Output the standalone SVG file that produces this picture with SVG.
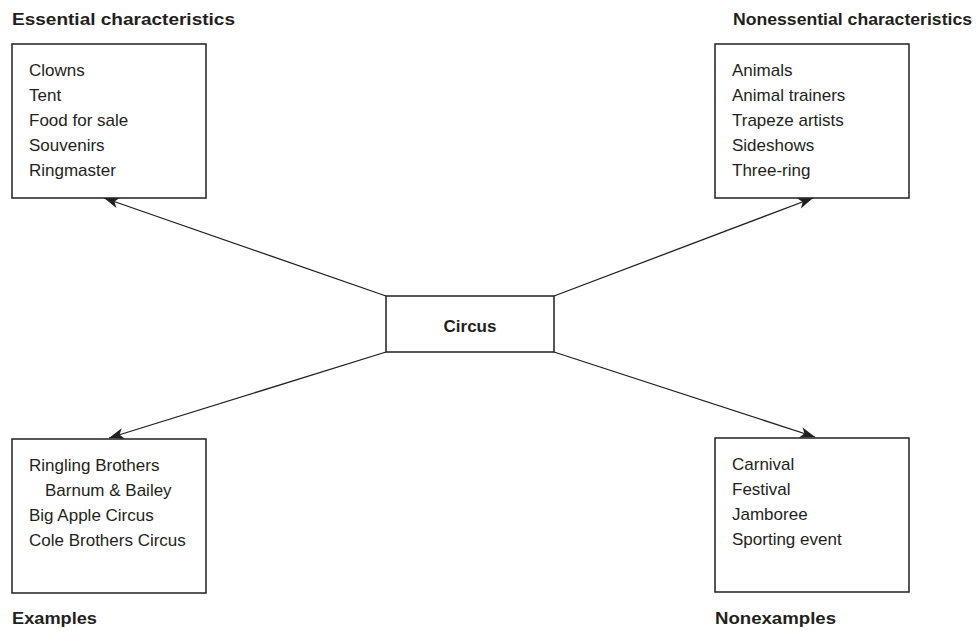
<svg xmlns="http://www.w3.org/2000/svg" width="976" height="631" viewBox="0 0 976 631">
<style>
.box{fill:#fff;stroke:#231f20;stroke-width:1.5}
.t{font-family:"Liberation Sans",Arial,sans-serif;font-size:17px;fill:#231f20}
.h{font-family:"Liberation Sans",Arial,sans-serif;font-size:17px;font-weight:bold;fill:#231f20}
.c{stroke:#231f20;stroke-width:1.3;fill:none}
</style>
<defs>
<marker id="ah" viewBox="-16 -6 17 12" refX="0" refY="0" markerWidth="17" markerHeight="12" markerUnits="userSpaceOnUse" orient="auto">
<path d="M0,0 L-15,-5.5 L-11,0 L-15,5.5 Z" fill="#231f20"/>
</marker>
</defs>
<rect width="976" height="631" fill="#fff"/>
<g id="connectors">
<line class="c" x1="386" y1="296" x2="104" y2="198" marker-end="url(#ah)"/>
<line class="c" x1="554" y1="296" x2="813" y2="198" marker-end="url(#ah)"/>
<line class="c" x1="386" y1="352" x2="109" y2="438" marker-end="url(#ah)"/>
<line class="c" x1="554" y1="352" x2="815" y2="437" marker-end="url(#ah)"/>
</g>
<g id="essential">
<text class="h" x="12" y="25" textLength="223" lengthAdjust="spacingAndGlyphs">Essential characteristics</text>
<rect class="box" x="12" y="44" width="194" height="154"/>
<text class="t" x="29" y="76">Clowns</text>
<text class="t" x="29" y="101">Tent</text>
<text class="t" x="29" y="126">Food for sale</text>
<text class="t" x="29" y="151">Souvenirs</text>
<text class="t" x="29" y="176">Ringmaster</text>
</g>
<g id="nonessential">
<text class="h" x="733" y="25" textLength="239" lengthAdjust="spacingAndGlyphs">Nonessential characteristics</text>
<rect class="box" x="715" y="44" width="194" height="154"/>
<text class="t" x="732" y="76">Animals</text>
<text class="t" x="732" y="101">Animal trainers</text>
<text class="t" x="732" y="126">Trapeze artists</text>
<text class="t" x="732" y="151">Sideshows</text>
<text class="t" x="732" y="176">Three-ring</text>
</g>
<g id="circus">
<rect class="box" x="386" y="296" width="168" height="56"/>
<text class="h" x="470" y="332" text-anchor="middle">Circus</text>
</g>
<g id="examples">
<rect class="box" x="12" y="439" width="194" height="154"/>
<text class="t" x="29" y="471">Ringling Brothers</text>
<text class="t" x="45" y="496">Barnum &amp; Bailey</text>
<text class="t" x="29" y="521">Big Apple Circus</text>
<text class="t" x="29" y="546">Cole Brothers Circus</text>
<text class="h" x="12" y="624" textLength="85" lengthAdjust="spacingAndGlyphs">Examples</text>
</g>
<g id="nonexamples">
<rect class="box" x="715" y="438" width="194" height="154"/>
<text class="t" x="732" y="470">Carnival</text>
<text class="t" x="732" y="495">Festival</text>
<text class="t" x="732" y="520">Jamboree</text>
<text class="t" x="732" y="545">Sporting event</text>
<text class="h" x="715" y="624" textLength="121" lengthAdjust="spacingAndGlyphs">Nonexamples</text>
</g>
</svg>
